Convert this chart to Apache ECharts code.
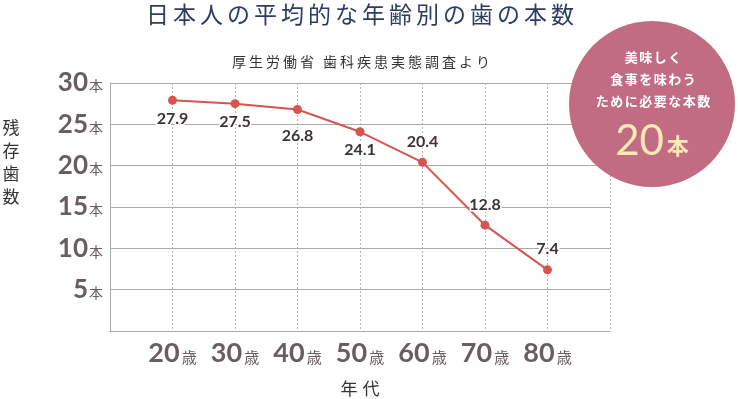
<!DOCTYPE html>
<html>
<head>
<meta charset="utf-8">
<script src="https://cdn.jsdelivr.net/npm/echarts@6/dist/echarts.min.js"></script>
<style>
  html, body { margin: 0; padding: 0; background: #fff; }
  #chart { width: 738px; height: 399px; }
</style>
</head>
<body>
<div id="chart"></div>
<script>
  // data
  var ages = [20, 30, 40, 50, 60, 70, 80];
  var teeth = [27.9, 27.5, 26.8, 24.1, 20.4, 12.8, 7.4];
  var yTicks = [5, 10, 15, 20, 25, 30];

  var cjk = '"Noto Sans CJK JP", sans-serif';
  var num = 'Lato, "Open Sans", sans-serif';
  var grey = '#675e61';

  // zrender has no letter spacing for graphic text, so lay out char by char
  var measureCtx = document.createElement('canvas').getContext('2d');
  function spaced(str, cx, cy, font, fill, gap, z) {
    measureCtx.font = font;
    var chars = str.split('');
    var widths = chars.map(function (c) { return measureCtx.measureText(c).width; });
    var total = widths.reduce(function (a, b) { return a + b; }, 0) + gap * (chars.length - 1);
    var x = cx - total / 2;
    return chars.map(function (c, i) {
      var el = {
        type: 'text', x: x, y: cy, z: z || 1,
        style: { text: c, font: font, fill: fill, align: 'left', verticalAlign: 'middle' }
      };
      x += widths[i] + gap;
      return el;
    });
  }

  // labels sit under the first four points and above the rest
  var points = ages.map(function (a, i) {
    var below = i < 4;
    var extra = i === 2 ? 14 : 6;
    return {
      value: [a, teeth[i]],
      label: {
        position: below ? 'bottom' : 'top',
        distance: below ? extra : 8
      }
    };
  });

  var graphics = [].concat(
    spaced('日本人の平均的な年齢別の歯の本数', 360, 14, '23px ' + cjk, '#2f3b62', 4),
    spaced('厚生労働省 歯科疾患実態調査より', 361, 62, '14px ' + cjk, '#333', 3),
    spaced('年代', 360, 389, '17px ' + cjk, '#333', 5),
    [
      {
        type: 'text', x: 11, y: 162,
        style: { text: '残\n存\n歯\n数', font: '17px ' + cjk, fill: '#333', align: 'center', verticalAlign: 'middle', lineHeight: 23 }
      },
      {
        type: 'circle', shape: { cx: 652, cy: 104, r: 83 },
        style: { fill: '#c26c84' }, z: 10
      },
      {
        type: 'text', x: 652, y: 141, z: 11,
        style: {
          text: '{n|20}{u|本}',
          align: 'center', verticalAlign: 'middle',
          rich: {
            n: { fontFamily: num, fontSize: 42, fill: '#fbeab3', padding: [0, 3, 0, 0] },
            u: { fontFamily: cjk, fontSize: 22, fill: '#fbeab3', fontWeight: 'bold', padding: [10, 0, 0, 0] }
          }
        }
      }
    ],
    spaced('美味しく', 653, 57, 'bold 13px ' + cjk, '#fff', 1.5, 11),
    spaced('食事を味わう', 653, 79, 'bold 13px ' + cjk, '#fff', 1.5, 11),
    spaced('ために必要な本数', 653, 101, 'bold 13px ' + cjk, '#fff', 1.5, 11)
  );

  var chart = echarts.init(document.getElementById('chart'));
  chart.setOption({
    animation: false,
    grid: { left: 110, right: 128, top: 83, bottom: 68 },
    xAxis: {
      type: 'value',
      min: 10,
      max: 90,
      interval: 10,
      axisLine: { show: true, lineStyle: { color: '#aaa', width: 1 } },
      axisTick: { show: false },
      splitLine: { show: true, lineStyle: { color: '#b5b5b5', type: [2, 2] } },
      axisLabel: {
        margin: 9,
        formatter: function (v) {
          return ages.indexOf(v) < 0 ? '' : '{n|' + v + '}{u|歳}';
        },
        rich: {
          n: { fontFamily: num, fontSize: 27, fontWeight: 'bold', color: grey, padding: [0, 2, 0, 0] },
          u: { fontFamily: cjk, fontSize: 15, color: grey, padding: [7, 0, 0, 0] }
        }
      }
    },
    yAxis: {
      type: 'value',
      min: 0,
      max: 30,
      interval: 5,
      axisLine: { show: true, lineStyle: { color: '#aaa', width: 1 } },
      axisTick: { show: false },
      splitLine: { show: true, lineStyle: { color: '#aaa', width: 1 } },
      axisLabel: {
        margin: 7,
        formatter: function (v) {
          return yTicks.indexOf(v) < 0 ? '' : '{n|' + v + '}{u|本}';
        },
        rich: {
          n: { fontFamily: num, fontSize: 26, fontWeight: 'bold', color: grey, padding: [0, 1, 0, 0] },
          u: { fontFamily: cjk, fontSize: 14, color: grey, padding: [6, 0, 0, 0] }
        }
      }
    },
    series: [{
      type: 'line',
      data: points,
      symbol: 'circle',
      symbolSize: 9,
      itemStyle: { color: '#d6554f' },
      lineStyle: { color: '#d6554f', width: 2 },
      label: {
        show: true,
        formatter: function (p) { return p.value[1].toFixed(1); },
        fontFamily: num,
        fontSize: 16,
        fontWeight: 'bold',
        color: '#3b3336',
        textBorderColor: '#fff',
        textBorderWidth: 3
      }
    }],
    graphic: graphics
  });
</script>
</body>
</html>
